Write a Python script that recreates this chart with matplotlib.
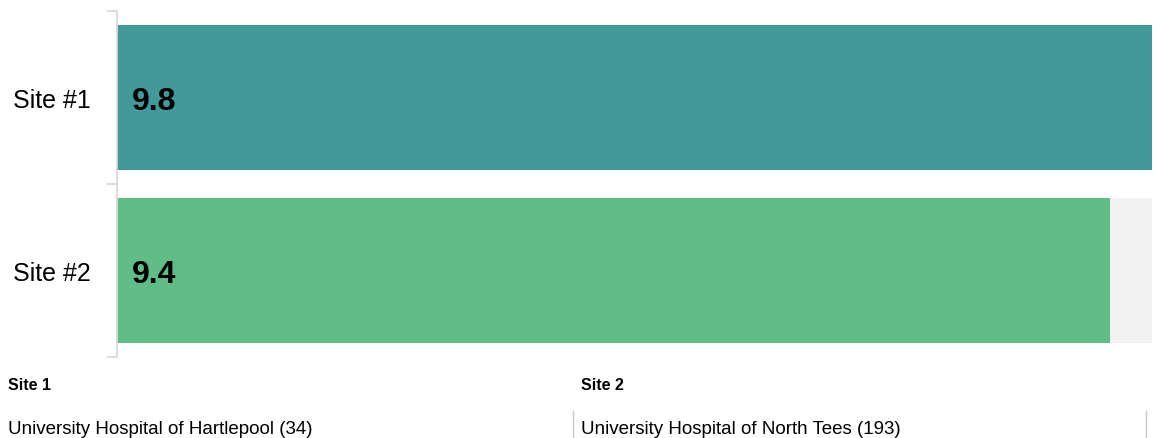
import matplotlib
matplotlib.use("Agg")
import matplotlib.pyplot as plt

plt.rcParams['font.family'] = ['Liberation Sans', 'DejaVu Sans']

categories = ["Site #1", "Site #2"]
values = [9.8, 9.4]
value_labels = ["9.8", "9.4"]
bar_colors = ["#42999a", "#5fbd85"]
scale_max = 9.8
site_headers = ["Site 1", "Site 2"]
site_names = ["University Hospital of Hartlepool (34)", "University Hospital of North Tees (193)"]

W, H = 1153, 439
fig = plt.figure(figsize=(W / 100, H / 100), dpi=100)
ax = fig.add_axes([117 / W, (H - 358) / H, (1152 - 117) / W, (358 - 12) / H])

ypos = list(range(len(categories)))
bh = 145 / 173
ax.barh(ypos, [scale_max] * len(values), height=bh, color="#f1f1f1", zorder=1)
ax.barh(ypos, values, height=bh, color=bar_colors, zorder=2)
for y, lab in zip(ypos, value_labels):
    ax.text(0.14, y + 0.018, lab, ha="left", va="center", fontsize=23, fontweight="bold", color="black", zorder=3)

ax.set_xlim(0, scale_max)
ax.set_ylim(len(categories) - 0.5, -0.5)
ax.set_yticks(ypos)
ax.set_yticklabels(categories, fontsize=18)
ax.tick_params(axis="y", which="major", length=0, pad=19)
ax.set_yticks([y - 0.5 for y in ypos] + [len(categories) - 0.5], minor=True)
ax.tick_params(axis="y", which="minor", length=7, width=1.3, color="#d9d9d9")
ax.set_xticks([])
for s in ["top", "right", "bottom"]:
    ax.spines[s].set_visible(False)
ax.spines["left"].set_color("#d9d9d9")
ax.spines["left"].set_linewidth(1.3)

xs = [8, 581]
for x, hdr, name in zip(xs, site_headers, site_names):
    fig.text(x / W, 1 - 386 / H, hdr, fontsize=11.5, fontweight="bold", ha="left", va="center")
    fig.text(x / W, 1 - 430 / H, name, fontsize=13.5, ha="left", va="center")

for x in [573, 1146]:
    fig.add_artist(plt.Line2D([x / W, x / W], [0, 1 - 412 / H], color="#c8c8c8", lw=1))

fig.savefig("out.png", dpi=100)
